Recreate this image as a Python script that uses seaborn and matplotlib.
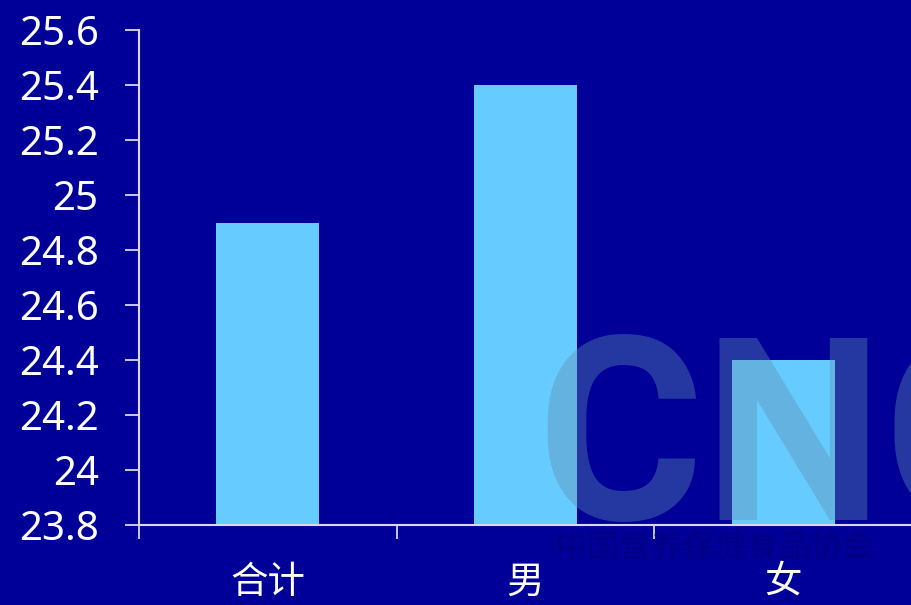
import matplotlib
matplotlib.use("Agg")
import matplotlib.pyplot as plt
from matplotlib.ticker import FixedLocator, FuncFormatter
import seaborn as sns
import pandas as pd

categories = ["合计", "男", "女"]
values = [24.9, 25.4, 24.4]
y_ticks = [23.8, 24.0, 24.2, 24.4, 24.6, 24.8, 25.0, 25.2, 25.4, 25.6]

BG = "#000099"
BAR = "#66CCFF"
LINE = "#D8D8E8"

sns.set_theme(style="white")
plt.rcParams["font.family"] = ["Noto Sans", "Noto Sans CJK SC"]

df = pd.DataFrame({"group": categories, "value": values})

fig = plt.figure(figsize=(9.12, 6.05), dpi=100, facecolor=BG)
ax = fig.add_axes([0.1524, 0.1322, 0.8476, 0.8182])
ax.set_facecolor(BG)

sns.barplot(data=df, x="group", y="value", color=BAR, saturation=1,
            width=0.4, ax=ax, linewidth=0)

ax.set_xlim(-0.5, 2.5)
ax.set_ylim(23.8, 25.6)
ax.set_yticks(y_ticks)
ax.yaxis.set_major_formatter(FuncFormatter(lambda v, p: f"{v:g}"))
ax.set_xlabel("")
ax.set_ylabel("")

for s in ["top", "right"]:
    ax.spines[s].set_visible(False)
for s in ["left", "bottom"]:
    ax.spines[s].set_color(LINE)
    ax.spines[s].set_linewidth(1.5)

ax.tick_params(axis="y", direction="out", length=10, width=1.3, color=LINE,
               labelcolor="white", labelsize=29, pad=19, left=True)
ax.tick_params(axis="x", which="major", length=0, pad=27,
               labelcolor="white", labelsize=27)
ax.xaxis.set_minor_locator(FixedLocator([-0.5, 0.5, 1.5, 2.5]))
ax.tick_params(axis="x", which="minor", direction="out", length=10,
               width=1.3, color=LINE, bottom=True)
for lbl in ax.get_xticklabels():
    lbl.set_fontfamily(["Noto Sans CJK SC"])
    lbl.set_fontweight("light")

# association watermark
fig.text(0.588, 0.141, "CNC", fontsize=184, fontweight="bold",
         color="#5F8CAF", alpha=0.4, ha="left", va="baseline",
         family=["Roboto"], zorder=10)
fig.text(0.609, 0.078, "中国营养保健食品协会", fontsize=23,
         color="#000070", alpha=0.5, ha="left", va="baseline",
         family=["Noto Sans CJK SC"], zorder=10)

fig.savefig("out.png", dpi=100, facecolor=BG)
